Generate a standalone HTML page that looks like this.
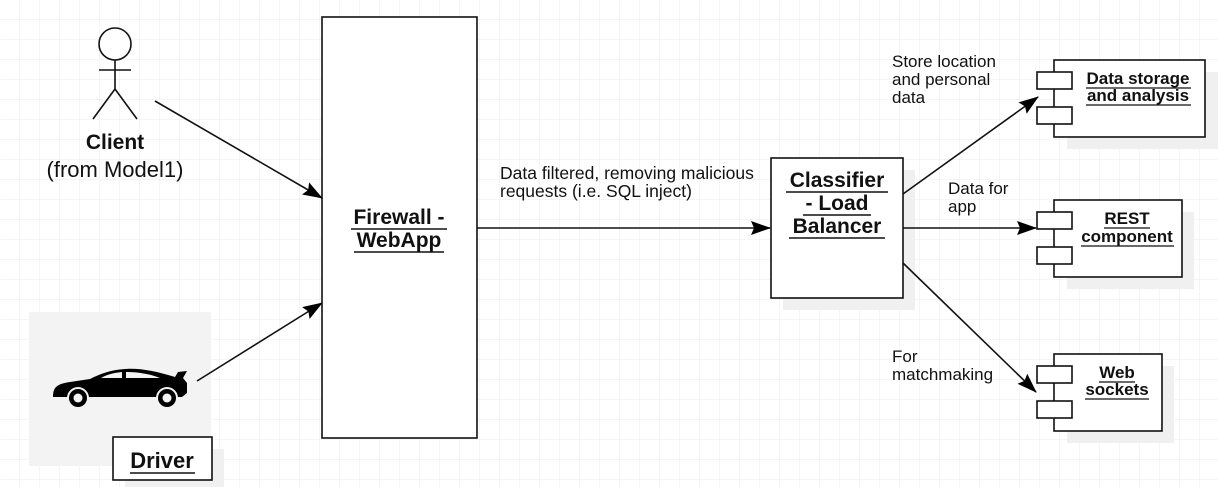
<!DOCTYPE html>
<html><head><meta charset="utf-8"><style>
html,body{margin:0;padding:0;background:#fff}
svg{display:block}
text{font-family:"Liberation Sans",sans-serif;fill:#111}
</style></head><body>
<svg width="1218" height="487" viewBox="0 0 1218 487" xmlns="http://www.w3.org/2000/svg">
<defs>
<pattern id="g" width="20" height="20" patternUnits="userSpaceOnUse"><path d="M20 0V20M0 20H20" stroke="#ebebeb" stroke-width="1" fill="none"/></pattern>
<marker id="a" viewBox="0 0 20 14" refX="19" refY="7" markerWidth="20" markerHeight="14" markerUnits="userSpaceOnUse" orient="auto"><path d="M0 0L20 7L0 14L3 7Z" fill="#000"/></marker>
</defs>
<rect width="1218" height="487" fill="#fff"/>
<rect x="0.5" y="0.5" width="1218" height="487" fill="url(#g)"/>

<g stroke="#111" stroke-width="1.6" fill="#fff">
<circle cx="115" cy="44" r="16"/>
<path d="M115 60V89M99 70H131M115 89L93 119M115 89L137 119" fill="none"/>
</g>
<text x="115" y="149" text-anchor="middle" font-size="21" font-weight="bold">Client</text>
<text x="115" y="177" text-anchor="middle" font-size="22">(from Model1)</text>

<rect x="29" y="312" width="182" height="154" fill="#f3f3f3"/>
<path d="M53 397 C53 388 56 384 70 382 L90 379 C100 374 110 370 125 369 C140 368 155 371 175 377 L178 372 L187 371 L183 378 L187 383 L187 393 L182 397 Z" fill="#000"/>
<path d="M101 378 C108 374 114 373 122 372 L122 378Z M126 372 C138 372 150 374 160 378 L126 378Z" fill="#f3f3f3"/>
<circle cx="78" cy="398" r="11" fill="#f3f3f3"/><circle cx="167" cy="398" r="11" fill="#f3f3f3"/>
<circle cx="78" cy="398" r="9" fill="#000"/><circle cx="78" cy="398" r="4.5" fill="#f3f3f3"/>
<circle cx="167" cy="398" r="9" fill="#000"/><circle cx="167" cy="398" r="4.5" fill="#f3f3f3"/>
<rect x="125" y="449" width="99" height="38" fill="#f0f0f0"/>
<rect x="113" y="437" width="99" height="43" fill="#fff" stroke="#111" stroke-width="1.6"/>
<text x="162" y="468" text-anchor="middle" font-size="22" font-weight="bold">Driver</text>
<line x1="130" y1="473" x2="195" y2="473" stroke="#111" stroke-width="1.5"/>

<rect x="322" y="17" width="155" height="421" fill="#fff" stroke="#111" stroke-width="1.6"/>
<text x="399" y="224" text-anchor="middle" font-size="21" font-weight="bold">Firewall -</text>
<line x1="351" y1="229" x2="447" y2="229" stroke="#111" stroke-width="1.5"/>
<text x="399" y="247" text-anchor="middle" font-size="21" font-weight="bold">WebApp</text>
<line x1="354" y1="252" x2="444" y2="252" stroke="#111" stroke-width="1.5"/>

<text x="500" y="179" font-size="17.5">Data filtered, removing malicious</text>
<text x="500" y="197" font-size="17.5">requests (i.e. SQL inject)</text>

<rect x="783" y="170" width="132" height="140" fill="#f0f0f0"/>
<rect x="771" y="158" width="132" height="140" fill="#fff" stroke="#111" stroke-width="1.6"/>
<g font-size="21" font-weight="bold" text-anchor="middle">
<text x="837" y="187">Classifier</text>
<text x="837" y="210">- Load</text>
<text x="837" y="233">Balancer</text>
</g>
<g stroke="#111" stroke-width="1.5">
<line x1="786" y1="192" x2="888" y2="192"/>
<line x1="803" y1="215" x2="871" y2="215"/>
<line x1="789" y1="238" x2="885" y2="238"/>
</g>

<g stroke="#111" stroke-width="1.6" marker-end="url(#a)">
<line x1="155" y1="101" x2="322" y2="198"/>
<line x1="197" y1="381" x2="322" y2="303"/>
<line x1="477" y1="228" x2="770" y2="228"/>
<line x1="903" y1="194" x2="1038" y2="97"/>
<line x1="903" y1="228" x2="1036" y2="228"/>
<line x1="903" y1="263" x2="1036" y2="392"/>
</g>

<g font-size="17">
<text x="892" y="67">Store location</text>
<text x="892" y="85">and personal</text>
<text x="892" y="103">data</text>
<text x="948" y="194">Data for</text>
<text x="948" y="212">app</text>
<text x="892" y="362">For</text>
<text x="892" y="380">matchmaking</text>
</g>

<g stroke="#111" stroke-width="1.6">
<rect x="1067" y="72" width="151" height="77" fill="#f0f0f0" stroke="none"/>
<rect x="1054" y="60" width="151" height="77" fill="#fff"/>
<rect x="1037" y="72" width="35" height="17" fill="#fff"/>
<rect x="1037" y="107" width="35" height="17" fill="#fff"/>

<rect x="1067" y="212" width="127" height="77" fill="#f0f0f0" stroke="none"/>
<rect x="1054" y="200" width="128" height="77" fill="#fff"/>
<rect x="1037" y="212" width="35" height="17" fill="#fff"/>
<rect x="1037" y="247" width="35" height="17" fill="#fff"/>

<rect x="1067" y="366" width="107" height="77" fill="#f0f0f0" stroke="none"/>
<rect x="1054" y="354" width="108" height="77" fill="#fff"/>
<rect x="1037" y="366" width="35" height="17" fill="#fff"/>
<rect x="1037" y="401" width="35" height="17" fill="#fff"/>
</g>
<g font-size="17" font-weight="bold" text-anchor="middle">
<text x="1138" y="84">Data storage</text>
<text x="1138" y="101">and analysis</text>
<text x="1127" y="224">REST</text>
<text x="1127" y="242">component</text>
<text x="1117" y="378">Web</text>
<text x="1117" y="395">sockets</text>
</g>
<g stroke="#111" stroke-width="1.3">
<line x1="1086" y1="88" x2="1191" y2="88"/><line x1="1086" y1="105" x2="1191" y2="105"/>
<line x1="1104" y1="228" x2="1150" y2="228"/><line x1="1081" y1="246" x2="1174" y2="246"/>
<line x1="1099" y1="382" x2="1135" y2="382"/><line x1="1085" y1="399" x2="1149" y2="399"/>
</g>
</svg>
</body></html>
